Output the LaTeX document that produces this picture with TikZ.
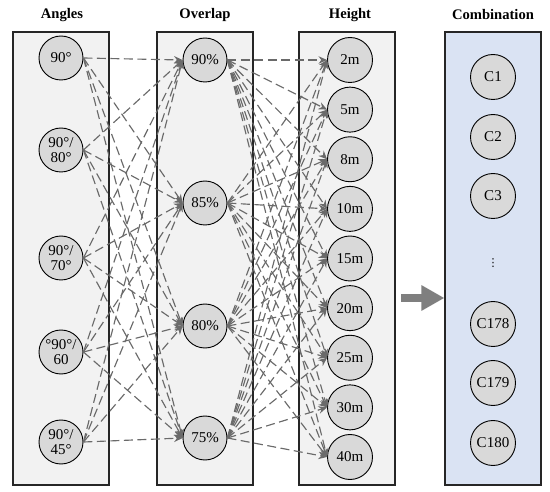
\documentclass[tikz,border=0pt]{standalone}
\usepackage{fontspec}
\setmainfont{Liberation Serif}
\newfontfamily\dotsfont{DejaVu Sans}
\usetikzlibrary{arrows.meta}
\definecolor{linegray}{HTML}{6A6A6A}
\definecolor{arrowgray}{HTML}{7F7F7F}
\definecolor{panelgray}{HTML}{F2F2F2}
\definecolor{panelblue}{HTML}{DAE3F3}
\definecolor{nodegray}{HTML}{D9D9D9}
\begin{document}
\begin{tikzpicture}[x=1pt,y=-1pt,
  panel/.style={draw=black!85, line width=1.1pt, fill=#1, minimum width=96pt, minimum height=453pt, inner sep=0pt},
  circ/.style={circle, draw=black, line width=0.9pt, fill=nodegray, minimum size=44pt, inner sep=0pt, font=\fontsize{15}{15.5}\selectfont, align=center},
  title/.style={font=\fontsize{14.6}{16}\selectfont\bfseries},
  conn/.style={draw=linegray, line width=1.15pt, dash pattern=on 9pt off 4.5pt, -{Stealth[length=8.5pt,width=7.5pt]}},
  bigarrow/.style={draw=arrowgray, line width=8pt, -{Triangle[length=23pt,width=24pt]}}
]
\useasboundingbox (0,0) rectangle (550,492);
% panels
\node[panel=panelgray] (pa) at (61,258.5) {};
\node[panel=panelgray] (po) at (205,258.5) {};
\node[panel=panelgray] (ph) at (347,258.5) {};
\node[panel=panelblue] (pc) at (493,258.5) {};
% titles
\node[title] (ta) at (62,15) {Angles};
\node[title] (to) at (205,15) {Overlap};
\node[title] (th) at (350,15) {Height};
\node[title] (tc) at (493,15) {Combination};
% angle nodes
\node[circ] (a1) at (61,58) {90°};
\node[circ] (a2) at (61,150) {90°/\\80°};
\node[circ] (a3) at (61,258) {90°/\\70°};
\node[circ] (a4) at (61,352) {°90°/\\60};
\node[circ] (a5) at (61,442) {90°/\\45°};
% overlap nodes
\node[circ] (o1) at (205,60) {90\%};
\node[circ] (o2) at (205,203) {85\%};
\node[circ] (o3) at (205,326) {80\%};
\node[circ] (o4) at (205,438) {75\%};
% height nodes
\foreach \i/\t in {1/2m,2/5m,3/8m,4/10m,5/15m,6/20m,7/25m,8/30m,9/40m}{
  \node[circ, minimum size=45pt] (h\i) at (350,{60+(\i-1)*49.625}) {\t};
}
% combination nodes
\node[circ, minimum size=45pt] (c1) at (493,77) {C1};
\node[circ, minimum size=45pt] (c2) at (493,137) {C2};
\node[circ, minimum size=45pt] (c3) at (493,196) {C3};
\node (dots) at (493,263) {\dotsfont\fontsize{11}{11}\selectfont ⋮};
\node[circ, minimum size=45pt] (c4) at (493,324) {C178};
\node[circ, minimum size=45pt] (c5) at (493,383) {C179};
\node[circ, minimum size=45pt] (c6) at (493,443) {C180};
% connectors angles -> overlap
\foreach \i in {1,...,5}{
  \foreach \j in {1,...,4}{
    \draw[conn] (a\i.east) -- (o\j.west);
  }
}
% connectors overlap -> height
\foreach \j in {1,...,4}{
  \foreach \k in {1,...,9}{
    \draw[conn] (o\j.east) -- (h\k.west);
  }
}
% big arrow
\coordinate (bs) at (401,298);
\draw[bigarrow] (bs) -- (pc.west |- bs);
\end{tikzpicture}
\end{document}
